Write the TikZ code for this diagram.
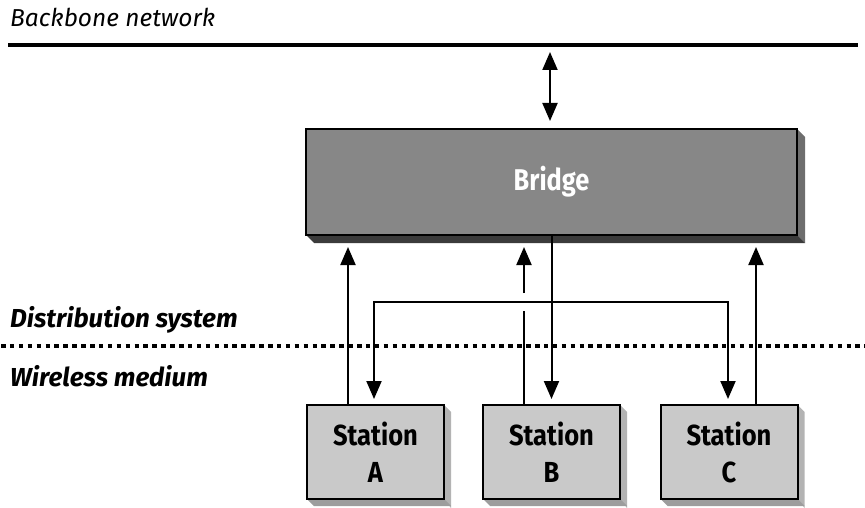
\documentclass[tikz,border=0pt]{standalone}
\usepackage{fontspec}
\setmainfont{Fira Sans}
\newfontfamily\bridgefont{Fira Sans}[FakeStretch=0.845]
\newfontfamily\stafont{Fira Sans}[FakeStretch=0.88]
\usetikzlibrary{arrows.meta,calc}
\definecolor{bridgefill}{HTML}{878787}
\definecolor{bridgeside}{HTML}{6E6E6E}
\definecolor{bridgebot}{HTML}{3B3B3B}
\definecolor{stafill}{HTML}{C9C9C9}
\definecolor{staside}{HTML}{B3B3B3}
\definecolor{stabot}{HTML}{9D9D9D}
\tikzset{
  bridgebox/.style={draw=black, line width=2pt, fill=bridgefill, minimum width=491pt, minimum height=106pt, inner sep=0pt, text=white, font=\bridgefont\bfseries\fontsize{30}{36}\selectfont},
  stabox/.style={draw=black, line width=2pt, fill=stafill, minimum width=137pt, minimum height=94pt, inner sep=0pt, align=center, font=\stafont\bfseries\fontsize{29}{37}\selectfont},
  lblplain/.style={anchor=base west, inner sep=0pt, font=\itshape\fontsize{24.5}{30}\selectfont},
  lblbold/.style={anchor=base west, inner sep=0pt, font=\bfseries\itshape\fontsize{26}{30}\selectfont},
  conn/.style={line width=2pt, line cap=butt},
  tipped/.style={conn, -{Triangle[length=18pt,width=15pt]}},
  bothtipped/.style={conn, {Triangle[length=18pt,width=15pt]}-{Triangle[length=18pt,width=15pt]}},
}
\begin{document}
\begin{tikzpicture}[x=1pt,y=-1pt]
\useasboundingbox (0,0) rectangle (865,508);

% backbone
\coordinate (bbL) at (8,45);
\coordinate (bbR) at (858,45);
\draw[line width=4pt] (bbL) -- (bbR);
\node[lblplain] (bbtxt) at (10,27) {Backbone network};

% distribution / wireless divide
\coordinate (dvL) at (0,345.5);
\coordinate (dvR) at (865,345.5);
\draw[line width=4pt, dash pattern=on 4.5pt off 4.4pt, dash phase=-1pt] (dvL) -- (dvR);
\node[lblbold] (dstxt) at (10,327) {Distribution system};
\node[lblbold] (wmtxt) at (10,386) {Wireless medium};

% bridge extrusion
\coordinate (brNE) at (797,129);
\coordinate (brSE) at (797,235);
\coordinate (brSW) at (306,235);
\fill[bridgeside] (brNE) -- ++(8,8) -- ($(brSE)+(8,8)$) -- (brSE) -- cycle;
\fill[bridgebot] (brSW) -- ++(8,8) -- ($(brSE)+(8,8)$) -- (brSE) -- cycle;
\node[bridgebox] (br) at (551.5,182) {Bridge};

% stations extrusions
\foreach \cx in {375.5,551.5,729}{
  \fill[staside] (\cx+68.5,405) -- (\cx+75.5,412) -- (\cx+75.5,508) -- (\cx+68.5,499) -- cycle;
  \fill[stabot] (\cx-68.5,499) -- (\cx-61.5,506) -- (\cx+75.5,506) -- (\cx+68.5,499) -- cycle;
}
\node[stabox] (sA) at (375.5,452) {Station\\A};
\node[stabox] (sB) at (551.5,452) {Station\\B};
\node[stabox] (sC) at (729,452) {Station\\C};

% backbone <-> bridge
\coordinate (bbT) at (550,45);
\draw[bothtipped, shorten <=7pt, shorten >=7pt] (bbT) -- (bbT |- br.north);

% station -> bridge
\coordinate (upA) at ([xshift=-27.5pt]sA.north);
\coordinate (upB) at ([xshift=-27.5pt]sB.north);
\coordinate (upC) at ([xshift=27pt]sC.north);
\draw[tipped, shorten >=11pt] (upA) -- (upA |- br.south);
\draw[tipped, shorten >=11pt] (upC) -- (upC |- br.south);
\coordinate (gapLo) at (upB |- 0,311);
\coordinate (gapHi) at (upB |- 0,293);
\draw[conn] (upB) -- (gapLo);
\draw[tipped, shorten >=11pt] (gapHi) -- (upB |- br.south);

% bridge -> stations
\coordinate (hl) at (0,302);
\coordinate (dnA) at ([xshift=-1.5pt]sA.north);
\coordinate (dnC) at ([xshift=-1pt]sC.north);
\draw[tipped, shorten >=5pt] (br.south -| sB.north) -- (sB.north);
\draw[bothtipped, shorten <=5pt, shorten >=5pt] (dnA) -- (dnA |- hl) -- (dnC |- hl) -- (dnC);
\end{tikzpicture}
\end{document}
